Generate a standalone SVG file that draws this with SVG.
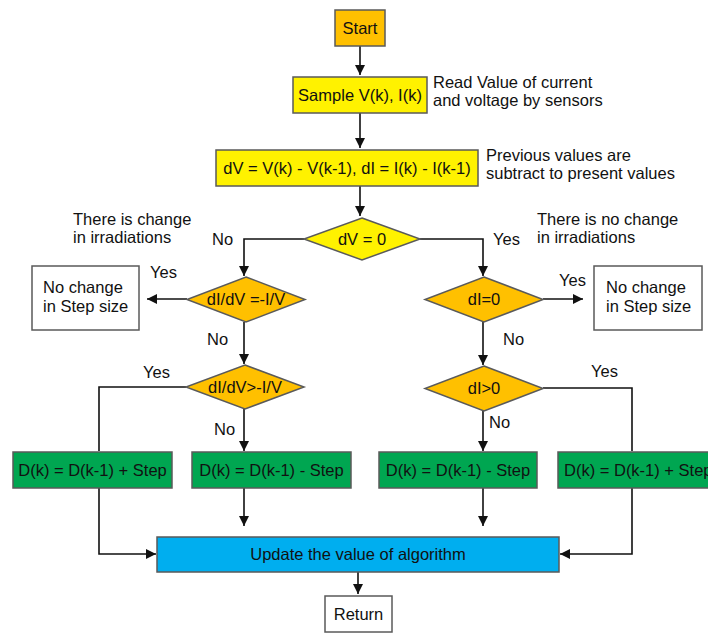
<svg xmlns="http://www.w3.org/2000/svg" width="708" height="633" viewBox="0 0 708 633">
<defs>
<marker id="arr" viewBox="0 0 10 10" refX="10" refY="5" markerWidth="10" markerHeight="10" markerUnits="userSpaceOnUse" orient="auto">
<path d="M0,0 L10,5 L0,10 Z" fill="#111"/>
</marker>
<style>
text{font-family:"Liberation Sans",Arial,sans-serif;font-size:16.5px;fill:#111}
.c{text-anchor:middle}
.box{stroke:#5a5a5a;stroke-width:1.5}
.or{fill:#FFC000}
.ye{fill:#FFF200}
.gr{fill:#00A651}
.bl{fill:#00AEEF}
.wh{fill:#fff}
.ln{fill:none;stroke:#111;stroke-width:1.6}
</style>
</defs>
<rect width="708" height="633" fill="#fff"/>
<g id="connectors">
<path class="ln" d="M360,46 V75" marker-end="url(#arr)"/>
<path class="ln" d="M360,113 V148" marker-end="url(#arr)"/>
<path class="ln" d="M360,186 V216" marker-end="url(#arr)"/>
<path class="ln" d="M304,239 H244 V276" marker-end="url(#arr)"/>
<path class="ln" d="M420,239 H483 V276" marker-end="url(#arr)"/>
<path class="ln" d="M187,299 H147" marker-end="url(#arr)"/>
<path class="ln" d="M543,299 H583" marker-end="url(#arr)"/>
<path class="ln" d="M244,322 V364" marker-end="url(#arr)"/>
<path class="ln" d="M483,322 V365" marker-end="url(#arr)"/>
<path class="ln" d="M186,387 H99 V451"/>
<path class="ln" d="M244,409 V451" marker-end="url(#arr)"/>
<path class="ln" d="M483,411 V451" marker-end="url(#arr)"/>
<path class="ln" d="M543,388 H632 V451"/>
<path class="ln" d="M99,488 V554 H156" marker-end="url(#arr)"/>
<path class="ln" d="M244,488 V526" marker-end="url(#arr)"/>
<path class="ln" d="M483,488 V526" marker-end="url(#arr)"/>
<path class="ln" d="M632,488 V554 H560" marker-end="url(#arr)"/>
<path class="ln" d="M358,572 V594" marker-end="url(#arr)"/>
<text x="212" y="245">No</text>
<text x="493" y="245">Yes</text>
<text x="150" y="278">Yes</text>
<text x="559" y="286">Yes</text>
<text x="207" y="345">No</text>
<text x="503" y="345">No</text>
<text x="143" y="378">Yes</text>
<text x="591" y="377">Yes</text>
<text x="214" y="435">No</text>
<text x="489" y="428">No</text>
</g>
<g id="start"><rect class="box or" x="335" y="10" width="50" height="36"/><text class="c" x="360" y="33.5">Start</text></g>
<g id="sample"><rect class="box ye" x="293" y="77" width="134" height="36"/><text class="c" x="360" y="100.5">Sample V(k), I(k)</text></g>
<g id="note1"><text x="433" y="88">Read Value of current</text><text x="433" y="106">and voltage by sensors</text></g>
<g id="diff"><rect class="box ye" x="216" y="150" width="262" height="36"/><text class="c" x="347" y="173.5">dV = V(k) - V(k-1), dI = I(k) - I(k-1)</text></g>
<g id="note2"><text x="486" y="161">Previous values are</text><text x="486" y="179">subtract to present values</text></g>
<g id="dv0"><polygon class="box ye" points="362,218 420,239 362,260 304,239"/><text class="c" x="362" y="244.5">dV = 0</text></g>
<g id="note3"><text x="73" y="225">There is change</text><text x="73" y="243">in irradiations</text></g>
<g id="note4"><text x="537" y="225">There is no change</text><text x="537" y="243">in irradiations</text></g>
<g id="d1"><polygon class="box or" points="246,277 305,299.5 246,322 187,299.5"/><text class="c" x="246" y="305">dI/dV =-I/V</text></g>
<g id="nc1"><rect class="box wh" x="32" y="266" width="107" height="64"/><text x="43" y="293">No change</text><text x="43" y="312">in Step size</text></g>
<g id="d2"><polygon class="box or" points="245,365 304,387 245,409 186,387"/><text class="c" x="245" y="392.5">dI/dV&gt;-I/V</text></g>
<g id="d3"><polygon class="box or" points="484,277 543,299.5 484,322 425,299.5"/><text class="c" x="484" y="305">dI=0</text></g>
<g id="nc2"><rect class="box wh" x="594" y="266" width="108" height="64"/><text x="606" y="293">No change</text><text x="606" y="312">in Step size</text></g>
<g id="d4"><polygon class="box or" points="484,366 543,388.5 484,411 425,388.5"/><text class="c" x="484" y="394">dI&gt;0</text></g>
<g id="g1"><rect class="box gr" x="13" y="452" width="159" height="36"/><text class="c" x="92.5" y="475.5">D(k) = D(k-1) + Step</text></g>
<g id="g2"><rect class="box gr" x="192" y="452" width="159" height="36"/><text class="c" x="271.5" y="475.5">D(k) = D(k-1) - Step</text></g>
<g id="g3"><rect class="box gr" x="379" y="452" width="158" height="36"/><text class="c" x="458" y="475.5">D(k) = D(k-1) - Step</text></g>
<g id="g4"><rect class="box gr" x="558" y="452" width="159" height="36"/><text x="564" y="475.5">D(k) = D(k-1) + Step</text></g>
<g id="update"><rect class="box bl" x="157" y="537" width="402" height="35"/><text class="c" x="358" y="560">Update the value of algorithm</text></g>
<g id="return"><rect class="box wh" x="325" y="596" width="67" height="36"/><text class="c" x="358.5" y="619.5">Return</text></g>
</svg>
